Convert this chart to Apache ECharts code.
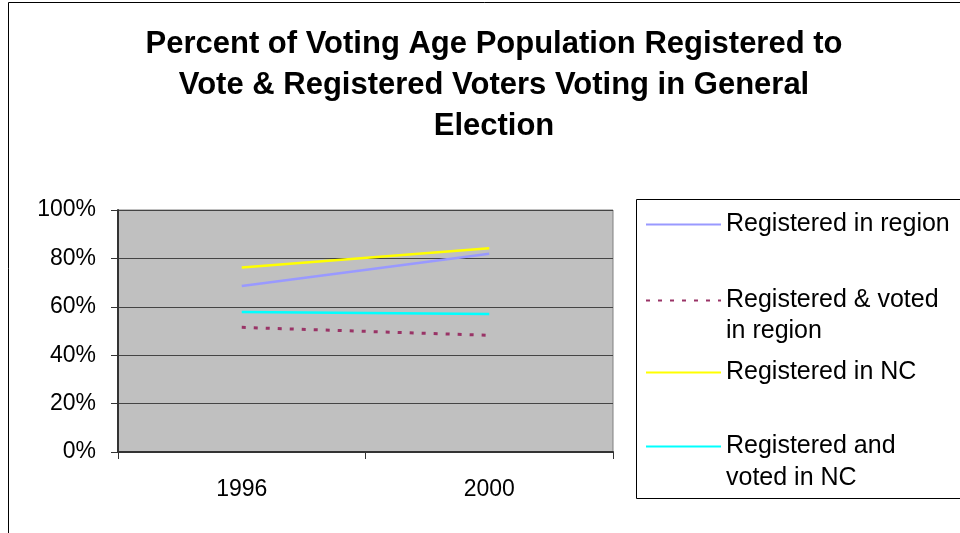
<!DOCTYPE html>
<html>
<head>
    <meta charset="utf-8">
    <title>Voting Age Population Registered</title>
    <script type="text/javascript" src="https://cdn.jsdelivr.net/npm/echarts@6/dist/echarts.min.js"></script>
    <style>
        html, body { margin: 0; padding: 0; background: #fff; }
    </style>
</head>
<body>
    <div id="main" style="width:960px; height:533px;"></div>
    <script type="text/javascript">
    // 数据
    var years = ['1996', '2000'];
    var regRegion = [68.6, 81.9];     // Registered in region
    var votedRegion = [51.5, 48.2];   // Registered & voted in region
    var regNC = [76.2, 84.2];         // Registered in NC
    var votedNC = [57.9, 57.0];       // Registered and voted in NC
    var yTicks = [0, 20, 40, 60, 80, 100];

    var names = ['Registered in region', 'Registered & voted in region', 'Registered in NC', 'Registered and voted in NC'];
    // 图例第一行 / 第二行
    var firstLine = {
        'Registered in region': 'Registered in region',
        'Registered & voted in region': 'Registered & voted',
        'Registered in NC': 'Registered in NC',
        'Registered and voted in NC': 'Registered and'
    };

    var font = 'Liberation Sans, Arial, sans-serif';
    var myChart = echarts.init(document.getElementById('main'));

    function legendAt(name, top) {
        return {
            data: [name],
            left: 645,
            top: top,
            padding: 0,
            itemWidth: 75,
            itemHeight: 14,
            selectedMode: false,
            itemStyle: { opacity: 0 },
            formatter: function (n) { return firstLine[n]; },
            textStyle: {
                fontFamily: font,
                fontSize: 25,
                color: '#000',
                lineHeight: 31
            }
        };
    }

    function secondLine(text, y) {
        return {
            type: 'text', silent: true,
            x: 726, y: y,
            style: {
                text: text,
                font: '25px ' + font,
                fill: '#000',
                verticalAlign: 'middle',
                lineHeight: 31
            }
        };
    }

    var option = {
        backgroundColor: '#fff',
        animation: false,
        title: {
            text: 'Percent of Voting Age Population Registered to\nVote & Registered Voters Voting in General\nElection',
            left: 489,
            textAlign: 'center',
            top: 19,
            textStyle: {
                fontFamily: font,
                fontWeight: 'bold',
                fontSize: 31,
                lineHeight: 41,
                color: '#000'
            }
        },
        legend: [
            legendAt(names[0], 209),
            legendAt(names[1], 285),
            legendAt(names[2], 357),
            legendAt(names[3], 431)
        ],
        grid: {
            left: 118,
            right: 347,
            top: 210,
            bottom: 81,
            show: true,
            backgroundColor: '#C0C0C0',
            borderColor: '#808080',
            borderWidth: 1
        },
        xAxis: {
            type: 'category',
            data: years,
            boundaryGap: true,
            axisLine: { lineStyle: { color: '#333', width: 2 } },
            axisTick: { show: true, length: 7, lineStyle: { color: '#333', width: 1 } },
            axisLabel: { fontFamily: font, fontSize: 23, color: '#000', margin: 26 }
        },
        yAxis: {
            type: 'value',
            min: 0,
            max: 100,
            interval: 20,
            axisLine: { show: true, lineStyle: { color: '#333', width: 2 } },
            axisTick: { show: true, length: 7, lineStyle: { color: '#333', width: 1 } },
            splitLine: { lineStyle: { color: '#444', width: 1 } },
            axisLabel: {
                fontFamily: font, fontSize: 23, color: '#000', margin: 22,
                formatter: function (v) { return yTicks.indexOf(v) >= 0 ? v + '%' : ''; }
            }
        },
        series: [
            {
                name: names[0], type: 'line', data: regRegion, symbol: 'none',
                color: '#9999FF', lineStyle: { color: '#9999FF', width: 2.5 }
            },
            {
                name: names[1], type: 'line', data: votedRegion, symbol: 'none',
                color: '#993366', lineStyle: { color: '#993366', width: 3, type: [4, 8] }
            },
            {
                name: names[2], type: 'line', data: regNC, symbol: 'none',
                color: '#FFFF00', lineStyle: { color: '#FFFF00', width: 2.5 }
            },
            {
                name: names[3], type: 'line', data: votedNC, symbol: 'none',
                color: '#00FFFF', lineStyle: { color: '#00FFFF', width: 2.5 }
            }
        ],
        graphic: [
            {
                type: 'rect', silent: true, z: -1,
                shape: { x: 8.5, y: 2.5, width: 1000, height: 1000 },
                style: { fill: 'none', stroke: '#000', lineWidth: 1 }
            },
            {
                type: 'rect', silent: true, z: -1,
                shape: { x: 636.5, y: 199.5, width: 400, height: 299 },
                style: { fill: 'none', stroke: '#000', lineWidth: 1 }
            },
            secondLine('in region', 331),
            secondLine('voted in NC', 478)
        ]
    };

    myChart.setOption(option);
    </script>
</body>
</html>
